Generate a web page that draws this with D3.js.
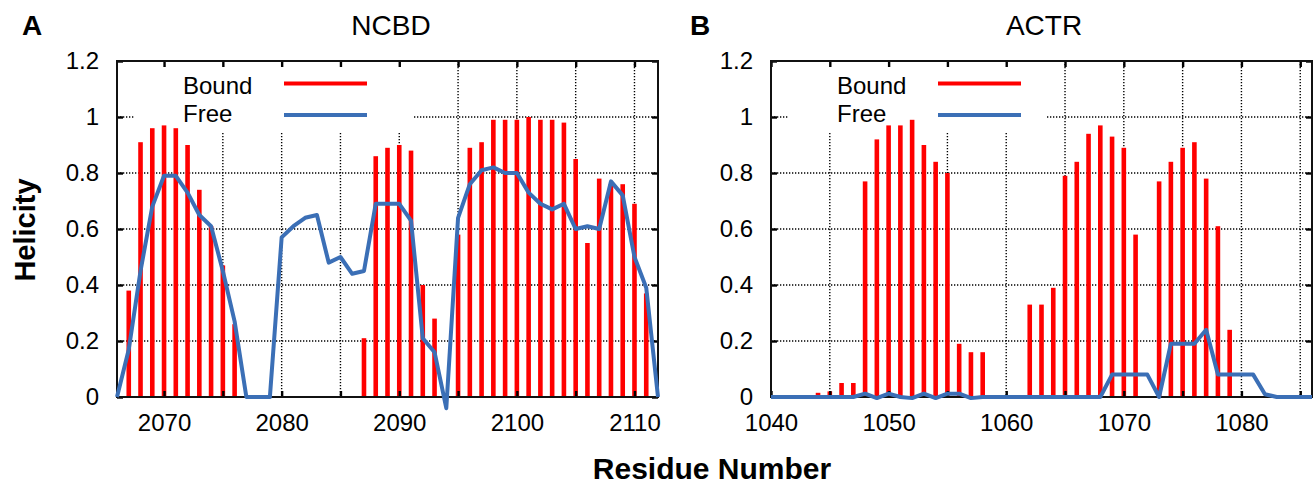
<!DOCTYPE html>
<html>
<head>
<meta charset="utf-8">
<script src="https://cdn.jsdelivr.net/npm/d3@7"></script>
<style>
  body { margin: 0; background: #fff; }
  svg text { font-family: "Liberation Sans", Arial, Helvetica, sans-serif; fill: #000; }
</style>
</head>
<body>
<svg id="chart" width="1314" height="486"></svg>
<script>
// NCBD, residues 2066-2112
const ncbdResidues = d3.range(2066, 2113);
const ncbdBound = [
  0, 0.38, 0.91, 0.96, 0.97, 0.96, 0.90, 0.74, 0.61, 0.47,
  0.26, 0, 0, 0, 0, 0, 0, 0, 0, 0,
  0, 0.21, 0.86, 0.89, 0.90, 0.88, 0.40, 0.28, 0, 0.58,
  0.89, 0.91, 0.99, 0.99, 0.99, 1.00, 0.99, 0.99, 0.98, 0.85,
  0.55, 0.78, 0.76, 0.76, 0.69, 0.37, 0
];
const ncbdFree = [
  0, 0.17, 0.45, 0.68, 0.79, 0.79, 0.73, 0.65, 0.61, 0.45,
  0.27, 0, 0, 0, 0.57, 0.61, 0.64, 0.65, 0.48, 0.50,
  0.44, 0.45, 0.69, 0.69, 0.69, 0.63, 0.21, 0.16, -0.04, 0.64,
  0.76, 0.81, 0.82, 0.80, 0.80, 0.73, 0.69, 0.67, 0.69, 0.60,
  0.61, 0.60, 0.77, 0.72, 0.50, 0.39, 0
];

// ACTR, residues 1040-1086
const actrResidues = d3.range(1040, 1087);
const actrBound = [
  0, 0, 0, 0, 0.015, 0.02, 0.05, 0.05, 0.77, 0.92,
  0.97, 0.97, 0.99, 0.90, 0.84, 0.80, 0.19, 0.16, 0.16, 0,
  0, 0, 0.33, 0.33, 0.39, 0.79, 0.84, 0.94, 0.97, 0.93,
  0.89, 0.58, 0, 0.77, 0.84, 0.89, 0.91, 0.78, 0.61, 0.24,
  0, 0, 0, 0, 0, 0, 0
];
const actrFree = [
  0, 0, 0, 0, 0, 0, 0, 0, 0.012, -0.004,
  0.012, 0, -0.004, 0.012, -0.004, 0.012, 0.012, -0.004, 0, 0,
  0, 0, 0, 0, 0, 0, 0, 0, 0, 0.08,
  0.08, 0.08, 0.08, 0, 0.19, 0.19, 0.19, 0.24, 0.08, 0.08,
  0.08, 0.08, 0.01, 0, 0, 0, 0
];

const helicityTicks = [0, 0.2, 0.4, 0.6, 0.8, 1, 1.2];
const ncbdTicks = [2070, 2075, 2080, 2085, 2090, 2095, 2100, 2105, 2110];
const actrTicks = [1040, 1045, 1050, 1055, 1060, 1065, 1070, 1075, 1080, 1085];
const legendLabels = ["Bound", "Free"];

const red = "#ff0000";
const blue = "#3b6fb6";

const svg = d3.select("#chart");

function drawPanel(p) {
  const width = 541, height = 336;
  const g = svg.append("g").attr("transform", `translate(${p.left},61)`);

  const x = d3.scaleLinear().domain(p.domain).range([0, width]);
  const y = d3.scaleLinear().domain([0, 1.2]).range([height, 0]);

  // dotted grid
  g.append("g").selectAll("line")
    .data(helicityTicks.filter(t => t > 0 && t < 1.2))
    .join("line")
    .attr("x1", 0).attr("x2", width)
    .attr("y1", d => y(d)).attr("y2", d => y(d))
    .attr("stroke", "#000").attr("stroke-width", 1.4).attr("stroke-dasharray", "1.3,1.7");
  g.append("g").selectAll("line")
    .data(p.ticks.filter(t => x(t) > 1 && x(t) < width - 1))
    .join("line")
    .attr("x1", d => x(d)).attr("x2", d => x(d))
    .attr("y1", 0).attr("y2", height)
    .attr("stroke", "#000").attr("stroke-width", 1.4).attr("stroke-dasharray", "1.3,1.7");

  // opaque key box
  g.append("rect")
    .attr("x", 18).attr("y", 0)
    .attr("width", p.keyWidth).attr("height", 71)
    .attr("fill", "#fff");

  // bound bars
  g.append("g").selectAll("rect")
    .data(p.residues.map((r, i) => ({ r, v: p.bound[i] })).filter(d => d.v > 0))
    .join("rect")
    .attr("x", d => x(d.r) - 2.3)
    .attr("width", 4.6)
    .attr("y", d => y(d.v))
    .attr("height", d => y(0) - y(d.v))
    .attr("fill", red);

  // axes: labels outside, ticks inward, mirrored
  const left = g.append("g")
    .call(d3.axisLeft(y).tickValues(helicityTicks).tickSizeInner(-6).tickSizeOuter(0)
      .tickPadding(18).tickFormat(d => String(d)));
  const right = g.append("g").attr("transform", `translate(${width},0)`)
    .call(d3.axisRight(y).tickValues(helicityTicks).tickSizeInner(-6).tickSizeOuter(0).tickFormat(""));
  const bottom = g.append("g").attr("transform", `translate(0,${height})`)
    .call(d3.axisBottom(x).tickValues(p.ticks).tickSizeInner(-6).tickSizeOuter(0)
      .tickPadding(17).tickFormat(d => d % 10 === 0 ? d : ""));
  const top = g.append("g")
    .call(d3.axisTop(x).tickValues(p.ticks).tickSizeInner(-6).tickSizeOuter(0).tickFormat(""));
  [left, right, bottom, top].forEach(a => {
    a.select(".domain").remove();
    a.selectAll(".tick line").attr("stroke", "#000").attr("stroke-width", 2.4);
    a.selectAll("text").attr("font-size", 24).attr("font-family", null);
  });

  // frame
  g.append("rect")
    .attr("width", width).attr("height", height)
    .attr("fill", "none").attr("stroke", "#111").attr("stroke-width", 2);

  // free line
  const line = d3.line().x(d => x(d.r)).y(d => y(d.v));
  g.append("path")
    .datum(p.residues.map((r, i) => ({ r, v: p.free[i] })))
    .attr("d", line)
    .attr("fill", "none")
    .attr("stroke", blue)
    .attr("stroke-width", 4)
    .attr("stroke-linejoin", "round");

  // key
  const key = g.append("g");
  key.selectAll("text")
    .data(legendLabels)
    .join("text")
    .attr("x", 66)
    .attr("y", (d, i) => 33 + i * 28)
    .attr("font-size", 24)
    .text(d => d);
  key.selectAll("line")
    .data([red, blue])
    .join("line")
    .attr("x1", 167).attr("x2", 250)
    .attr("y1", (d, i) => 22.5 + i * 31.5).attr("y2", (d, i) => 22.5 + i * 31.5)
    .attr("stroke", d => d)
    .attr("stroke-width", 4);

  // panel letter and title
  svg.append("text")
    .attr("x", p.letterX).attr("y", 35)
    .attr("font-size", 28).attr("font-weight", "bold")
    .text(p.letter);
  svg.append("text")
    .attr("x", p.left + p.titleOffset).attr("y", 35)
    .attr("text-anchor", "middle")
    .attr("font-size", 28)
    .text(p.title);
}

drawPanel({
  left: 117, domain: [2066, 2112], ticks: ncbdTicks,
  residues: ncbdResidues, bound: ncbdBound, free: ncbdFree,
  keyWidth: 278, letter: "A", letterX: 22, title: "NCBD", titleOffset: 274
});
drawPanel({
  left: 771, domain: [1040, 1086], ticks: actrTicks,
  residues: actrResidues, bound: actrBound, free: actrFree,
  keyWidth: 258, letter: "B", letterX: 690, title: "ACTR", titleOffset: 273
});

// shared axis titles
svg.append("text")
  .attr("transform", "translate(35,230) rotate(-90)")
  .attr("text-anchor", "middle")
  .attr("font-size", 29).attr("font-weight", "bold")
  .text("Helicity");
svg.append("text")
  .attr("x", 712).attr("y", 479)
  .attr("text-anchor", "middle")
  .attr("font-size", 30).attr("font-weight", "bold")
  .text("Residue Number");
</script>
</body>
</html>
